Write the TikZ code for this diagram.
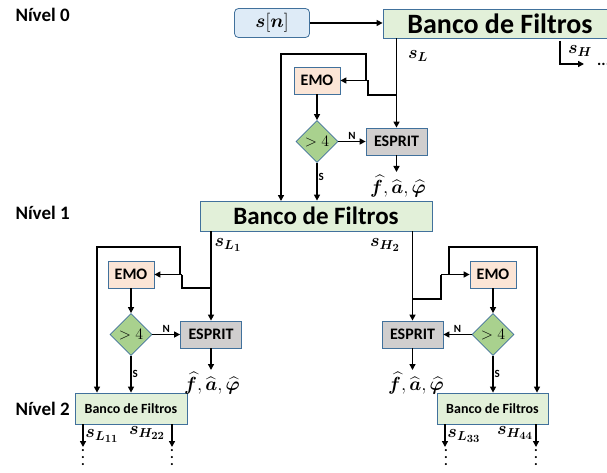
\RequirePackage{fix-cm}
\documentclass[tikz,border=0pt]{standalone}
\usepackage{fontspec}
\setmainfont{Carlito}
\usepackage{amsmath,bm}
\DeclareMathSizes{18}{18}{13}{11}
\usetikzlibrary{arrows.meta,shapes.geometric}
\definecolor{bord}{HTML}{41719C}
\definecolor{bluef}{HTML}{DEEBF7}
\definecolor{greenf}{HTML}{E2F0D9}
\definecolor{peachf}{HTML}{FBE5D6}
\definecolor{diamf}{HTML}{A9D18E}
\definecolor{grayf}{HTML}{D0CECE}
\begin{document}
\begin{tikzpicture}[x=1pt,y=-1pt,
  box/.style={draw=bord,line width=0.8pt,inner sep=0pt},
  bank/.style={box,fill=greenf},
  emobox/.style={box,fill=peachf,minimum width=46,minimum height=27,font=\bfseries\fontsize{16}{16}\selectfont},
  espbox/.style={box,fill=grayf,minimum width=61,minimum height=27,font=\bfseries\fontsize{16}{16}\selectfont},
  dec/.style={draw=bord,line width=0.8pt,fill=diamf,shape=diamond,inner sep=0pt,minimum width=42,minimum height=42,font=\fontsize{16}{16}\selectfont},
  con/.style={line width=1.4pt},
  arr/.style={con,-{Triangle[length=6pt,width=6pt]}},
  lvl/.style={anchor=base west,font=\bfseries\fontsize{19}{19}\selectfont},
  yn/.style={font=\bfseries\fontsize{11}{11}\selectfont,inner sep=1pt},
  sig/.style={font=\fontsize{18}{18}\selectfont,inner sep=0pt},
  est/.style={font=\fontsize{19}{19}\selectfont,inner sep=0pt},
  vdot/.style={align=center,font=\bfseries\fontsize{14}{7}\selectfont,inner sep=0pt},
  ]
\useasboundingbox (0,0) rectangle (607,473);

% level labels
\node[lvl] (n0) at (12,22) {Nível 0};
\node[lvl] (n1) at (12,219) {Nível 1};
\node[lvl] (n2) at (12,415) {Nível 2};

% level 0
\node[box,fill=bluef,rounded corners=4pt,minimum width=75,minimum height=29,font=\fontsize{19}{19}\selectfont] (sn) at (272,23) {$\bm{s}[\bm{n}]$};
\node[bank,minimum width=234,minimum height=29,font=\bfseries\fontsize{28}{28}\selectfont] (bf0) at (500,23.5) {Banco de Filtros};
\node[emobox] (emo0) at (317,80.5) {EMO};
\node[dec] (d0) at (317,141.5) {$>4$};
\node[espbox] (esp0) at (396.5,141.5) {ESPRIT};

\draw[arr] (sn.east) -- (sn.east -| bf0.west);
\draw[arr] (esp0.north |- bf0.south) -- (esp0.north);
\coordinate (t0) at (396.5,95);
\coordinate (t1) at (368,95);
\coordinate (t2) at (368,80.5);
\coordinate (t3) at (366,80.5);
\coordinate (t4) at (366,54);
\coordinate (t5) at (281,54);
\draw[con] (t0) -- (t1) -- (t2);
\draw[arr] (t2) -- (t2 -| emo0.east);
\draw[arr] (t3) -- (t4) -- (t5) -- (t5 |- 0,201);
\draw[arr] (emo0.south) -- (d0.north);
\draw[arr] (d0.east) -- (esp0.west) node[yn,midway,above] {N};
\coordinate (o0) at (396.5,172);
\draw[arr] (esp0.south) -- (o0);
\node[est] (fa0) at (398,186) {$\widehat{\bm f},\widehat{\bm a},\widehat{\bm\varphi}$};
\node[sig] (sl0) at (418,56) {$\bm{s}_{\bm{L}}$};
\coordinate (h0) at (560,41);
\coordinate (h1) at (584,64);
\draw[arr] (h0) |- (h1);
\node[sig] (sh0) at (580,51) {$\bm{s}_{\bm{H}}$};
\node[anchor=base west,font=\bfseries\fontsize{16}{16}\selectfont,inner sep=0pt] (dd0) at (597,66) {...};

% level 1
\node[bank,minimum width=232,minimum height=30,font=\bfseries\fontsize{25}{25}\selectfont] (bf1) at (316,216) {Banco de Filtros};
\draw[arr] (d0.south) -- (d0.south |- bf1.north) node[yn,pos=0.38,right] {S};

% left branch
\node[emobox] (emo1L) at (131,274.5) {EMO};
\node[dec] (d1L) at (131,334.5) {$>4$};
\node[espbox] (esp1L) at (211,334.5) {ESPRIT};
\node[bank,minimum width=112,minimum height=31,font=\bfseries\fontsize{14}{14}\selectfont] (bf2L) at (131,408.5) {Banco de Filtros};
\draw[arr] (esp1L.north |- bf1.south) -- (esp1L.north);
\coordinate (l0) at (211,288);
\coordinate (l1) at (182,288);
\coordinate (l2) at (182,274.5);
\coordinate (l3) at (180,274.5);
\coordinate (l4) at (180,247);
\coordinate (l5) at (97,247);
\draw[con] (l0) -- (l1) -- (l2);
\draw[arr] (l2) -- (l2 -| emo1L.east);
\draw[arr] (l3) -- (l4) -- (l5) -- (l5 |- bf2L.north);
\draw[arr] (emo1L.south) -- (d1L.north);
\draw[arr] (d1L.east) -- (esp1L.west) node[yn,midway,above] {N};
\draw[arr] (d1L.south) -- (d1L.south |- bf2L.north) node[yn,midway,right] {S};
\coordinate (o1L) at (211,370);
\draw[arr] (esp1L.south) -- (o1L);
\node[est] (fa1L) at (212,383) {$\widehat{\bm f},\widehat{\bm a},\widehat{\bm\varphi}$};
\node[sig] (sl1) at (228,245) {$\bm{s}_{\bm{L}_{\bm 1}}$};

% right branch
\node[emobox] (emo1R) at (493,274.5) {EMO};
\node[dec] (d1R) at (493,334.5) {$>4$};
\node[espbox] (esp1R) at (412.5,334.5) {ESPRIT};
\node[bank,minimum width=111,minimum height=31,font=\bfseries\fontsize{14}{14}\selectfont] (bf2R) at (492.5,408.5) {Banco de Filtros};
\draw[arr] (esp1R.north |- bf1.south) -- (esp1R.north);
\coordinate (r0) at (412.5,299);
\coordinate (r1) at (441,299);
\coordinate (r2) at (441,274.5);
\coordinate (r3) at (449,274.5);
\coordinate (r4) at (449,247);
\coordinate (r5) at (537,247);
\draw[con] (r0) -- (r1) -- (r2);
\draw[arr] (r2) -- (r2 -| emo1R.west);
\draw[arr] (r3) -- (r4) -- (r5) -- (r5 |- bf2R.north);
\draw[arr] (emo1R.south) -- (d1R.north);
\draw[arr] (d1R.west) -- (esp1R.east) node[yn,midway,above] {N};
\draw[arr] (d1R.south) -- (d1R.south |- bf2R.north) node[yn,midway,right] {S};
\coordinate (o1R) at (412.5,370);
\draw[arr] (esp1R.south) -- (o1R);
\node[est] (fa1R) at (416,383) {$\widehat{\bm f},\widehat{\bm a},\widehat{\bm\varphi}$};
\node[sig] (sh2) at (385,245) {$\bm{s}_{\bm{H}_{\bm 2}}$};

% level 2 outputs
\coordinate (a1) at (83,447);
\coordinate (a2) at (172,447);
\coordinate (a3) at (445,447);
\coordinate (a4) at (536,447);
\draw[arr] (a1 |- bf2L.south) -- (a1);
\draw[arr] (a2 |- bf2L.south) -- (a2);
\draw[arr] (a3 |- bf2R.south) -- (a3);
\draw[arr] (a4 |- bf2R.south) -- (a4);
\node[sig] (s11) at (102,436) {$\bm{s}_{\bm{L}_{\bm{11}}}$};
\node[sig] (s22) at (147,433) {$\bm{s}_{\bm{H}_{\bm{22}}}$};
\node[sig] (s33) at (464,436) {$\bm{s}_{\bm{L}_{\bm{33}}}$};
\node[sig] (s44) at (515,433) {$\bm{s}_{\bm{H}_{\bm{44}}}$};
\node[vdot] (v1) at (83,458) {.\\.\\.};
\node[vdot] (v2) at (172,458) {.\\.\\.};
\node[vdot] (v3) at (446,458) {.\\.\\.};
\node[vdot] (v4) at (536,458) {.\\.\\.};
\end{tikzpicture}
\end{document}
